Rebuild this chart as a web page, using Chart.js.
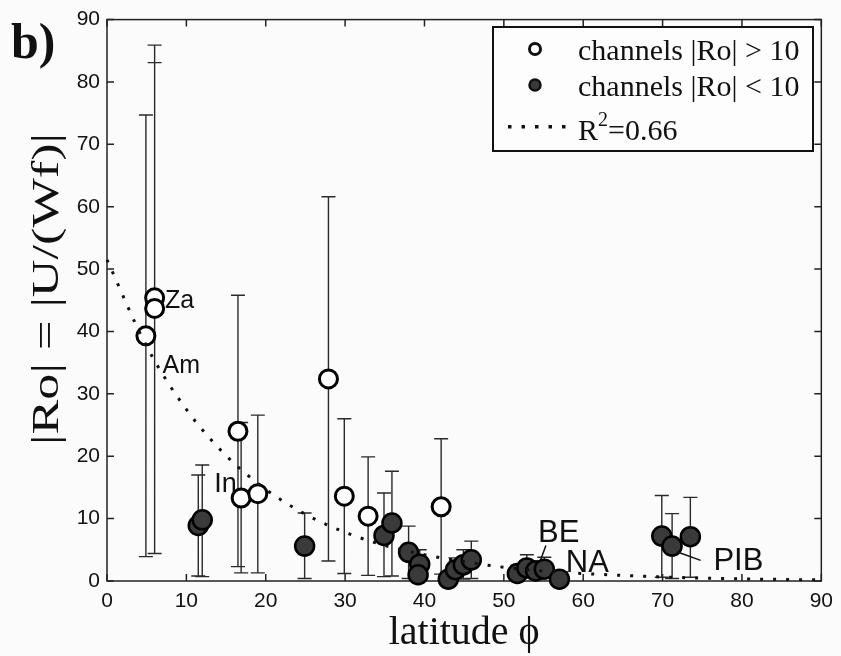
<!DOCTYPE html>
<html>
<head>
<meta charset="utf-8">
<script src="https://cdn.jsdelivr.net/npm/chart.js@4.4.1/dist/chart.umd.min.js"></script>
<style>
  html, body { margin: 0; padding: 0; background: #fbfbfb; }
  canvas { display: block; }
</style>
</head>
<body>
<canvas id="chart" width="841" height="656"></canvas>
<script>
// channels with |Ro| > 10 (open circles)
const openLat = [4.9, 6.0, 6.0, 16.5, 16.9, 19.0, 27.9, 29.9, 32.9, 42.1];
const openRo  = [39.3, 45.4, 43.7, 24.0, 13.3, 14.0, 32.4, 13.6, 10.4, 11.9];
const openHi  = [74.7, 85.9, 83.1, 45.8, 25.4, 26.6, 61.6, 26.0, 19.9, 22.8];
const openLo  = [3.9, 4.4, 4.4, 2.3, 1.3, 1.3, 3.2, 1.2, 0.9, 1.1];

// channels with |Ro| < 10 (filled circles)
const fillLat = [11.5, 12.0, 24.9, 34.9, 35.9, 38.0, 39.4, 39.2, 43.0, 43.9, 44.9, 45.9, 51.7, 52.9, 54.0, 55.1, 57.0, 69.9, 71.2, 73.5];
const fillRo  = [8.9, 9.8, 5.6, 7.3, 9.3, 4.6, 2.7, 1.0, 0.3, 1.8, 2.6, 3.4, 1.2, 2.1, 1.6, 1.9, 0.3, 7.2, 5.6, 7.1];
const fillHi  = [17.0, 18.6, 10.9, 14.1, 17.6, 8.8, 5.0, 2.0, 0.8, 3.7, 5.0, 6.4, 2.5, 4.2, 3.2, 3.8, 0.8, 13.7, 10.8, 13.4];
const fillLo  = [0.8, 0.7, 0.4, 0.7, 0.8, 0.4, 0.5, 0.1, 0.0, 0.4, 0.3, 0.4, 0.4, 0.5, 0.4, 0.5, 0.0, 0.6, 0.4, 0.6];

// fitted curve (R^2 = 0.66)
const fitLat = [0, 5, 10, 15, 20, 25, 30, 35, 40, 45, 50, 55, 60, 65, 70, 75, 80, 85, 90];
const fitRo  = [51.5, 37.6, 27.5, 20.1, 14.7, 10.7, 7.8, 5.7, 4.2, 3.1, 2.2, 1.6, 1.2, 0.9, 0.64, 0.47, 0.34, 0.25, 0.18];

const xTicks = [0, 10, 20, 30, 40, 50, 60, 70, 80, 90];
const yTicks = [0, 10, 20, 30, 40, 50, 60, 70, 80, 90];

// site labels
const siteNames = ['Za', 'Am', 'In', 'BE', 'NA', 'PIB'];
const siteLat   = [7.3, 7.0, 13.5, 54.3, 57.8, 76.4];
const siteRo    = [43.8, 33.3, 14.2, 6.2, 1.5, 1.75];
const siteSize  = [25, 25, 27, 31, 31, 31];
// leader lines [lat1, ro1, lat2, ro2]
const leaders = [[55.3, 5.7, 54.6, 3.3], [71.8, 4.7, 74.8, 3.3]];

const pts = (xs, ys) => xs.map((x, i) => ({x: x, y: ys[i]}));

const ink = '#111';
const serif = '"Liberation Serif", "Times New Roman", serif';

// error bars, frame, ticks, labels, legend
const decor = {
    id: 'decor',
    beforeDatasetsDraw(chart) {
        const {ctx, chartArea: a, scales: {x, y}} = chart;
        ctx.save();
        // error bars
        ctx.strokeStyle = '#2a2a2a';
        ctx.lineWidth = 1.4;
        ctx.beginPath();
        const bars = (lat, lo, hi) => lat.forEach((v, i) => {
            const px = x.getPixelForValue(v);
            const t = y.getPixelForValue(hi[i]);
            const b = y.getPixelForValue(lo[i]);
            ctx.moveTo(px, t); ctx.lineTo(px, b);
            ctx.moveTo(px - 7, t); ctx.lineTo(px + 7, t);
            ctx.moveTo(px - 7, b); ctx.lineTo(px + 7, b);
        });
        bars(openLat, openLo, openHi);
        bars(fillLat, fillLo, fillHi);
        ctx.stroke();

        // box and inward ticks
        ctx.strokeStyle = '#222';
        ctx.lineWidth = 1.5;
        ctx.strokeRect(a.left, a.top, a.right - a.left, a.bottom - a.top);
        ctx.beginPath();
        xTicks.forEach(v => {
            const px = x.getPixelForValue(v);
            ctx.moveTo(px, a.bottom); ctx.lineTo(px, a.bottom - 7);
            ctx.moveTo(px, a.top); ctx.lineTo(px, a.top + 7);
        });
        yTicks.forEach(v => {
            const py = y.getPixelForValue(v);
            ctx.moveTo(a.left, py); ctx.lineTo(a.left + 7, py);
            ctx.moveTo(a.right, py); ctx.lineTo(a.right - 7, py);
        });
        ctx.stroke();
        ctx.restore();
    },
    afterDraw(chart) {
        const {ctx, chartArea: a, scales: {x, y}} = chart;
        ctx.save();
        ctx.fillStyle = ink;
        ctx.strokeStyle = ink;

        // site labels
        ctx.textBaseline = 'alphabetic';
        ctx.textAlign = 'left';
        siteNames.forEach((n, i) => {
            ctx.font = siteSize[i] + 'px "Liberation Sans", Arial, sans-serif';
            ctx.fillText(n, x.getPixelForValue(siteLat[i]), y.getPixelForValue(siteRo[i]));
        });
        ctx.lineWidth = 1.5;
        ctx.beginPath();
        leaders.forEach(l => {
            ctx.moveTo(x.getPixelForValue(l[0]), y.getPixelForValue(l[1]));
            ctx.lineTo(x.getPixelForValue(l[2]), y.getPixelForValue(l[3]));
        });
        ctx.stroke();

        // panel letter
        ctx.font = 'bold 50px ' + serif;
        ctx.fillText('b)', 11, 58);

        // x title
        ctx.textAlign = 'center';
        ctx.font = '40px ' + serif;
        ctx.fillText('latitude \u03D5', (a.left + a.right) / 2, 644);

        // y title, stretched to the length it has in the figure
        ctx.save();
        ctx.translate(58, 289);
        ctx.rotate(-Math.PI / 2);
        ctx.font = '38px ' + serif;
        const yt = '|Ro| = |U/(Wf)|';
        ctx.scale(312 / ctx.measureText(yt).width, 1);
        ctx.fillText(yt, 0, 0);
        ctx.restore();

        // legend
        const lx = 493, ly = 27, lw = 320, lh = 124;
        ctx.fillStyle = '#fdfdfd';
        ctx.fillRect(lx, ly, lw, lh);
        ctx.lineWidth = 2;
        ctx.strokeStyle = ink;
        ctx.strokeRect(lx, ly, lw, lh);

        ctx.lineWidth = 3;
        ctx.fillStyle = '#fff';
        ctx.beginPath(); ctx.arc(535, 49, 5.5, 0, Math.PI * 2); ctx.fill(); ctx.stroke();
        ctx.lineWidth = 2.5;
        ctx.fillStyle = '#3a3a3a';
        ctx.beginPath(); ctx.arc(535, 85, 5.5, 0, Math.PI * 2); ctx.fill(); ctx.stroke();
        ctx.fillStyle = ink;
        for (let dx = 508; dx < 570; dx += 13.5) ctx.fillRect(dx, 125, 3.5, 3.5);

        ctx.textAlign = 'left';
        ctx.font = '30px ' + serif;
        ctx.fillText('channels |Ro| > 10', 578, 60);
        ctx.fillText('channels |Ro| < 10', 578, 96);
        ctx.fillText('R', 578, 140);
        const rw = ctx.measureText('R').width;
        ctx.font = '20px ' + serif;
        ctx.fillText('2', 578 + rw, 126);
        const sw = ctx.measureText('2').width;
        ctx.font = '30px ' + serif;
        ctx.fillText('=0.66', 578 + rw + sw, 140);
        ctx.restore();
    }
};

const tickFont = {family: '"Liberation Sans", Arial, sans-serif', size: 21};

new Chart(document.getElementById('chart'), {
    type: 'scatter',
    data: {
        datasets: [
            {
                type: 'line',
                label: 'R^2=0.66',
                data: pts(fitLat, fitRo),
                borderColor: ink,
                borderWidth: 3,
                borderDash: [3, 10],
                borderCapStyle: 'butt',
                pointRadius: 0,
                fill: false,
                cubicInterpolationMode: 'monotone',
                order: 0,
                clip: false
            },
            {
                label: 'channels |Ro| < 10',
                data: pts(fillLat, fillRo),
                backgroundColor: '#3a3a3a',
                borderColor: '#000',
                borderWidth: 2.5,
                pointRadius: 9.5,
                order: 1,
                clip: false
            },
            {
                label: 'channels |Ro| > 10',
                data: pts(openLat, openRo),
                backgroundColor: '#fff',
                borderColor: '#000',
                borderWidth: 3,
                pointRadius: 9,
                order: 2,
                clip: false
            }
        ]
    },
    options: {
        responsive: false,
        animation: false,
        events: [],
        layout: {padding: {top: 16, right: 16, left: 0, bottom: 0}},
        plugins: {legend: {display: false}, tooltip: {enabled: false}},
        scales: {
            x: {
                type: 'linear', min: 0, max: 90,
                afterFit(s) { s.height = 75; },
                afterBuildTicks(s) { s.ticks = xTicks.map(v => ({value: v})); },
                grid: {display: false, drawTicks: false},
                border: {display: false},
                ticks: {padding: 8, font: tickFont, color: ink, maxRotation: 0}
            },
            y: {
                type: 'linear', min: 0, max: 90,
                afterFit(s) { s.width = 107; },
                afterBuildTicks(s) { s.ticks = yTicks.map(v => ({value: v})); },
                grid: {display: false, drawTicks: false},
                border: {display: false},
                ticks: {padding: 7, font: tickFont, color: ink}
            }
        }
    },
    plugins: [decor]
});
</script>
</body>
</html>
